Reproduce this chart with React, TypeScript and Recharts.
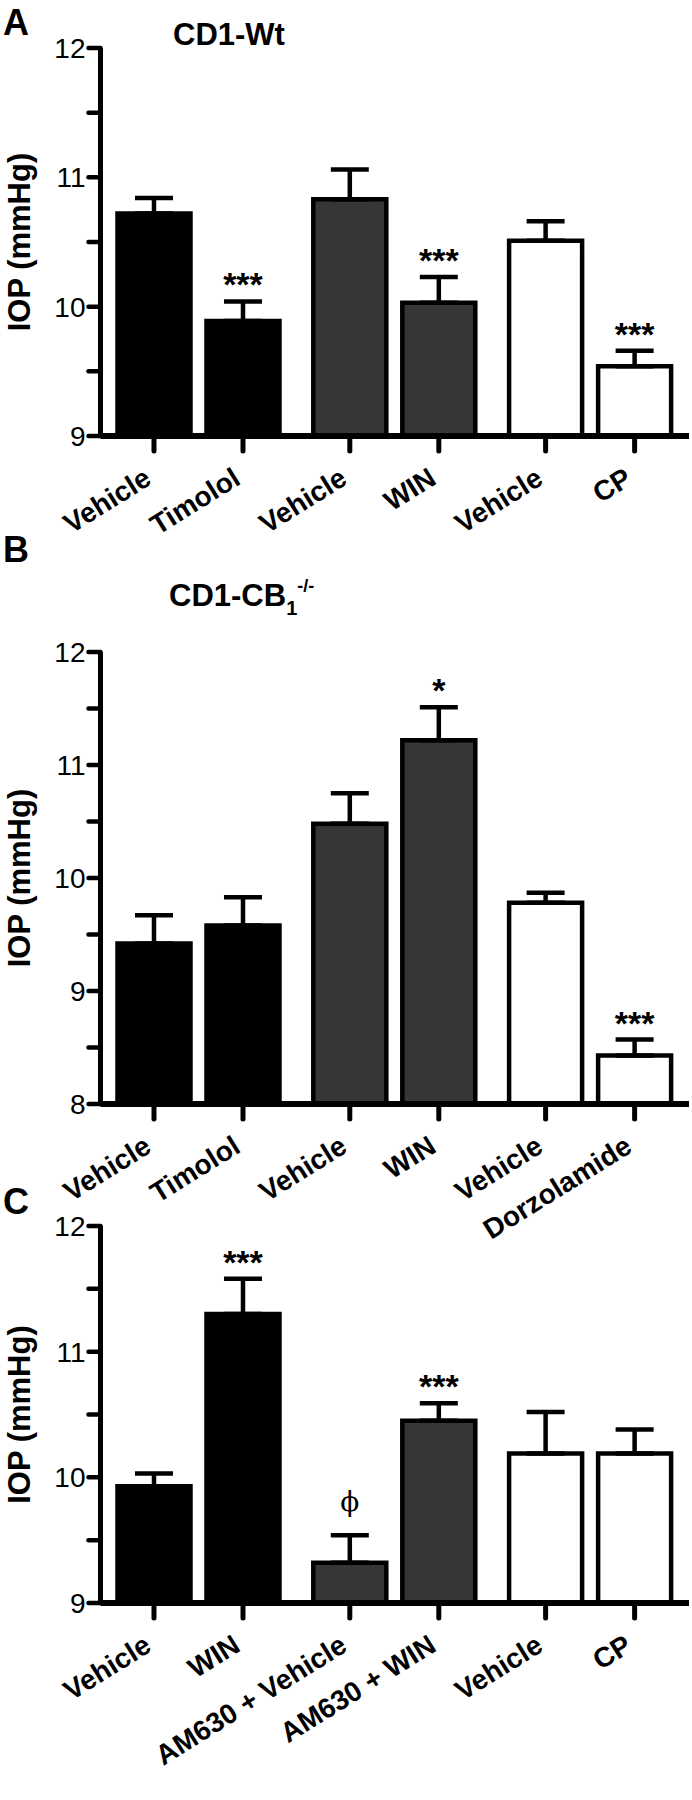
import { ComposedChart, Bar, Cell, ErrorBar, XAxis, YAxis, Scatter } from "recharts";

const FONT = '"Liberation Sans", Arial, Helvetica, sans-serif';

// Panel A: CD1-Wt
const namesA = ["Vehicle", "Timolol", "Vehicle", "WIN", "Vehicle", "CP"];
const meansA = [10.72, 9.89, 10.83, 10.03, 10.51, 9.54];
const semA = [0.12, 0.15, 0.23, 0.2, 0.15, 0.12];
const sigA = ["", "***", "", "***", "", "***"];
const ticksA = [9, 9.5, 10, 10.5, 11, 11.5, 12];

// Panel B: CD1-CB1 -/-
const namesB = ["Vehicle", "Timolol", "Vehicle", "WIN", "Vehicle", "Dorzolamide"];
const meansB = [9.42, 9.58, 10.48, 11.22, 9.78, 8.43];
const semB = [0.25, 0.25, 0.27, 0.29, 0.09, 0.14];
const sigB = ["", "", "", "*", "", "***"];
const ticksB = [8, 8.5, 9, 9.5, 10, 10.5, 11, 11.5, 12];

// Panel C
const namesC = ["Vehicle", "WIN", "AM630 + Vehicle", "AM630 + WIN", "Vehicle", "CP"];
const meansC = [9.93, 11.3, 9.32, 10.45, 10.19, 10.19];
const semC = [0.1, 0.28, 0.22, 0.14, 0.33, 0.19];
const sigC = ["", "***", "ϕ", "***", "", ""];
const ticksC = [9, 9.5, 10, 10.5, 11, 11.5, 12];

const fills = ["#000000", "#000000", "#363636", "#363636", "#ffffff", "#ffffff"];

const XTick = (props: any) => {
  const { x, y, payload, names, positions } = props;
  const idx = positions.indexOf(payload.value);
  return (
    <g transform={`translate(${x - 1}, ${y + 30}) rotate(-32)`}>
      <text
        x={0}
        y={0}
        textAnchor="end"
        fontSize={28}
        fontWeight="bold"
        fontFamily={FONT}
        fill="#000"
      >
        {names[idx]}
      </text>
    </g>
  );
};

const YLabel = (props: any) => {
  const { viewBox } = props;
  const cx = 19;
  const cy = viewBox.y + viewBox.height / 2;
  return (
    <text
      x={cx}
      y={cy}
      transform={`rotate(-90, ${cx}, ${cy})`}
      textAnchor="middle"
      dominantBaseline="central"
      fontSize={31}
      fontWeight="bold"
      fontFamily={FONT}
      fill="#000"
    >
      IOP (mmHg)
    </text>
  );
};

const SigMark = (props: any) => {
  const { cx, cy, payload } = props;
  if (!payload || !payload.sig) return <g />;
  const phi = payload.sig === "ϕ";
  return (
    <text
      x={cx}
      y={cy - (phi ? 24 : 5)}
      textAnchor="middle"
      fontSize={phi ? 28 : 34}
      fontWeight={phi ? "normal" : "bold"}
      fontFamily={phi ? '"DejaVu Serif", serif' : FONT}
      fill="#000"
    >
      {payload.sig}
    </text>
  );
};

type PanelProps = {
  names: string[];
  means: number[];
  sem: number[];
  sig: string[];
  yTicks: number[];
  top: number;
  height: number;
  plotTop: number;
  plotBottom: number;
};

function Panel({ names, means, sem, sig, yTicks, top, height, plotTop, plotBottom }: PanelProps) {
  const rows = names.map((n, i) => ({
    pos: i + Math.floor(i / 2) * 0.2,
    name: n,
    mean: means[i],
    err: [0, sem[i]],
    top: means[i] + sem[i],
    sig: sig[i],
  }));
  const positions = rows.map((r) => r.pos);
  const yMin = yTicks[0];
  const yMax = yTicks[yTicks.length - 1];

  return (
    <div style={{ position: "absolute", left: 0, top }}>
      <ComposedChart
        width={692}
        height={height}
        data={rows}
        margin={{ top: plotTop - top, right: 3, left: 0, bottom: 0 }}
      >
        <XAxis
          type="number"
          dataKey="pos"
          domain={[-0.601, 6.011]}
          ticks={positions}
          interval={0}
          allowDataOverflow
          height={top + height - plotBottom}
          axisLine={{ stroke: "#000", strokeWidth: 6 }}
          tickLine={{ stroke: "#000", strokeWidth: 5, strokeLinecap: "round" }}
          tickSize={15}
          tick={<XTick names={names} positions={positions} />}
        />
        <YAxis
          type="number"
          domain={[yMin, yMax]}
          ticks={yTicks}
          interval={0}
          allowDataOverflow
          width={100.5}
          axisLine={{ stroke: "#000", strokeWidth: 5 }}
          tickLine={{ stroke: "#000", strokeWidth: 4.5, strokeLinecap: "round" }}
          tickSize={12}
          tickMargin={3}
          tick={{ fontSize: 28, fill: "#000", fontFamily: FONT }}
          tickFormatter={(v: number) => (Number.isInteger(v) ? String(v) : "")}
          label={<YLabel />}
        />
        <Bar dataKey="mean" barSize={73} stroke="#000" strokeWidth={4.5} isAnimationActive={false}>
          {rows.map((r, i) => (
            <Cell key={i} fill={fills[i]} />
          ))}
          <ErrorBar dataKey="err" width={19} stroke="#000" strokeWidth={4.5} direction="y" isAnimationActive={false} />
        </Bar>
        <Scatter dataKey="top" shape={SigMark} isAnimationActive={false} />
      </ComposedChart>
    </div>
  );
}

export default function App() {
  return (
    <div style={{ position: "absolute", left: 0, top: 0, width: 692, height: 1800, background: "#fff" }}>
      <Panel names={namesA} means={meansA} sem={semA} sig={sigA} yTicks={ticksA}
        top={0} height={560} plotTop={48} plotBottom={436} />
      <Panel names={namesB} means={meansB} sem={semB} sig={sigB} yTicks={ticksB}
        top={540} height={740} plotTop={652} plotBottom={1104} />
      <Panel names={namesC} means={meansC} sem={semC} sig={sigC} yTicks={ticksC}
        top={1180} height={620} plotTop={1226} plotBottom={1603} />
      <svg width={692} height={1800} style={{ position: "absolute", left: 0, top: 0, pointerEvents: "none" }}>
        <g fontFamily={FONT} fontWeight="bold" fill="#000">
          <text x={3} y={35} fontSize={36}>A</text>
          <text x={173} y={45} fontSize={31}>CD1-Wt</text>
          <text x={3} y={562} fontSize={36}>B</text>
          <text x={169} y={606} fontSize={31}>
            CD1-CB<tspan fontSize={20} dy={9}>1</tspan>
            <tspan fontSize={18} dy={-23}>-/-</tspan>
          </text>
          <text x={3} y={1214} fontSize={36}>C</text>
        </g>
      </svg>
    </div>
  );
}
